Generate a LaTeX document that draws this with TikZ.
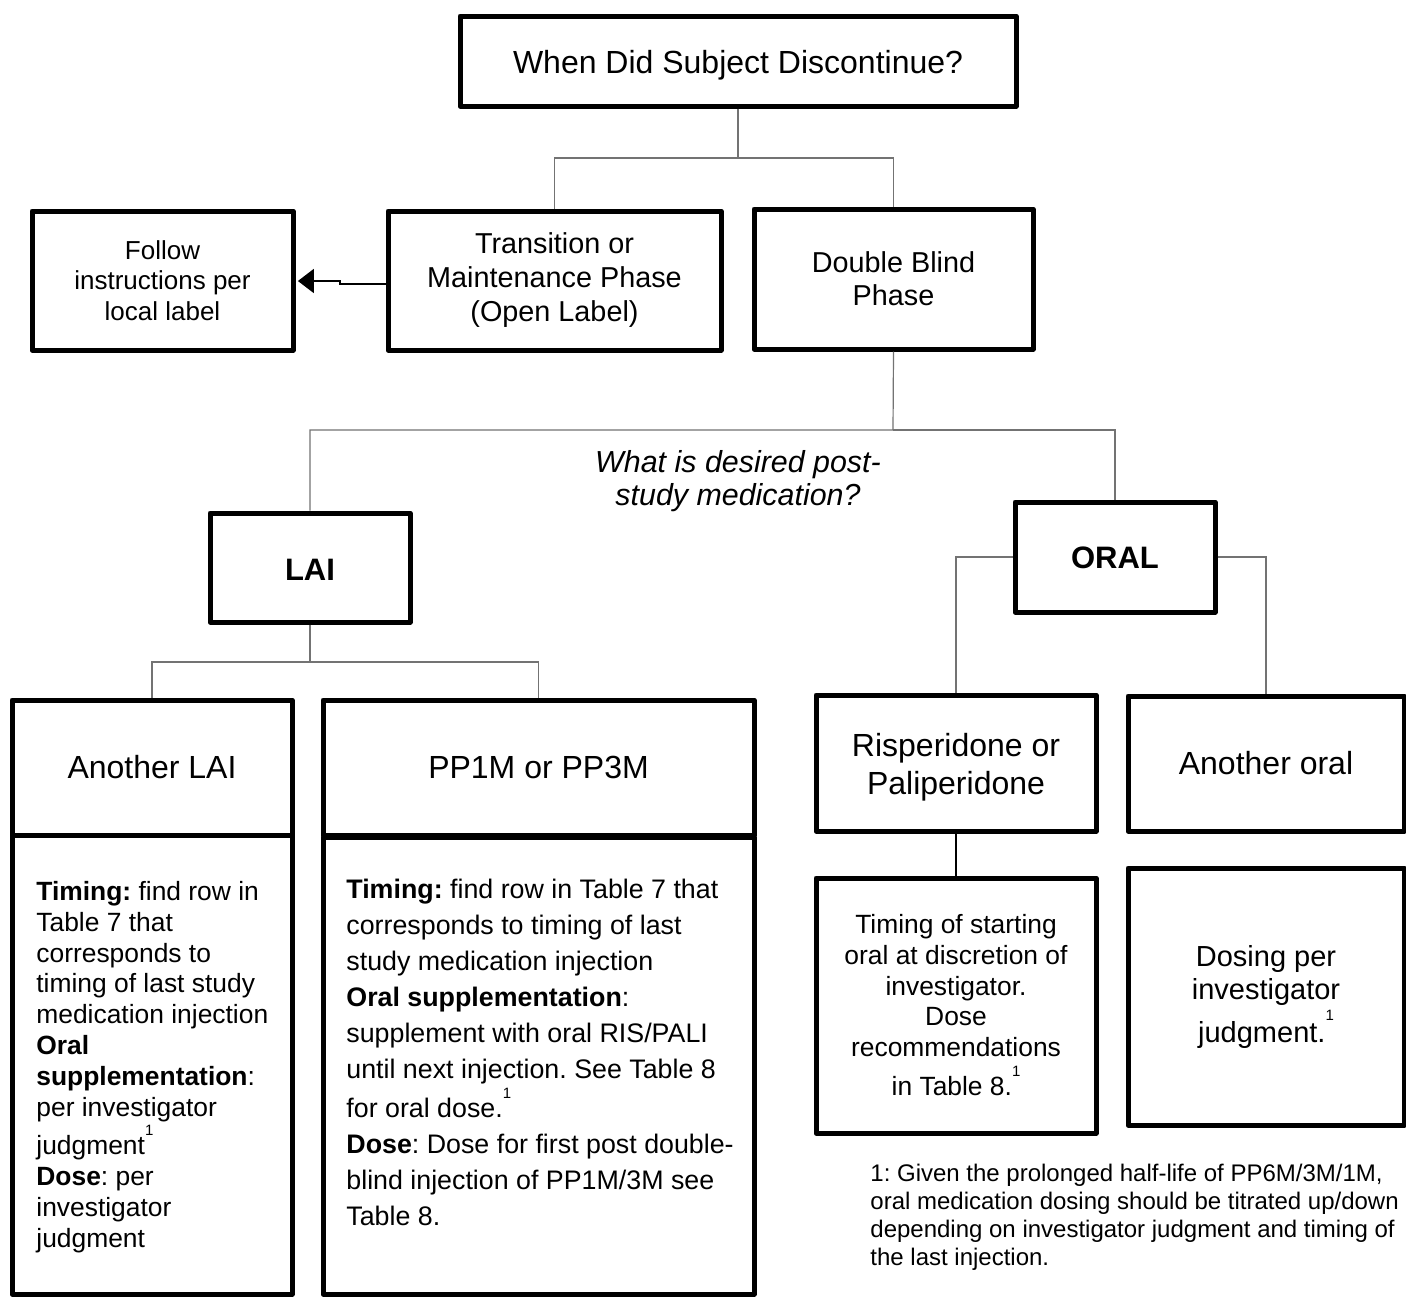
\documentclass[tikz,border=0pt]{standalone}
\usepackage{fontspec}
\setmainfont{Liberation Sans}
\usetikzlibrary{arrows.meta}
\frenchspacing
\newcommand\fnmark{\raisebox{0.74em}[0pt][0pt]{\fontsize{7.5}{8}\selectfont 1}}
\newcommand\fsz[2]{\fontsize{#1}{#2}\selectfont}
\newcommand\down[2]{\raisebox{-#1}[\height][\depth]{#2}}
\begin{document}
\begin{tikzpicture}[x=0.5pt,y=-0.5pt,
  box/.style={draw, line width=2.5pt, line join=round, inner sep=0pt, align=center},
  wh/.style 2 args={minimum width=#1*0.5pt, minimum height=#2*0.5pt},
  conn/.style={draw=black!55, line width=0.6pt},
  arr/.style={draw, line width=1pt, shorten >=1.2pt, -{Triangle[length=8pt,width=12pt]}},
  body/.style={inner sep=0pt, align=left, anchor=north west}]
\useasboundingbox[fill=white] (0,0) rectangle (1406,1296);

% top level
\node[box, wh={556}{90}, font=\fsz{16}{19}] (top) at (738,61) {\down{2pt}{When Did Subject Discontinue?}};
\node[box, wh={261}{139}, font=\fsz{13}{15.3}] (follow) at (162.5,280.5) {Follow\\instructions per\\local label};
\node[box, wh={333}{139}, font=\fsz{14.4}{17}] (trans) at (554.5,280.5) {Transition or\\Maintenance Phase\\(Open Label)};
\node[box, wh={279}{140}, font=\fsz{14.4}{16.5}] (db) at (893.5,279) {Double Blind\\Phase};

\node[font=\fsz{15.2}{16.5}\itshape, align=center, inner sep=0pt] (q) at (738,481) {What is desired post-\\study medication?};

\node[box, wh={200}{109}, font=\fsz{15.5}{18}\bfseries] (lai) at (310,567.5) {\down{1pt}{LAI}};
\node[box, wh={200}{110}, font=\fsz{15.5}{18}\bfseries] (oral) at (1115,557) {\down{0.5pt}{ORAL}};

% LAI branch
\node[box, wh={280}{135}, font=\fsz{16}{19}] (lai1) at (152,767.5) {Another LAI};
\node[box, wh={280}{459}] (lai1body) at (152,1064.5) {};
\node[box, wh={431}{135}, font=\fsz{16}{19}] (pp) at (538.5,767.5) {PP1M or PP3M};
\node[box, wh={431}{457}] (ppbody) at (538.5,1065.5) {};

\node[body, font=\fsz{13.2}{15.4}] (lai1txt) at (36,881) {\textbf{Timing:} find row in\\Table 7 that\\corresponds to\\timing of last study\\medication injection\\\textbf{Oral}\\\textbf{supplementation}:\\per investigator\\[4pt]judgment\fnmark\\\textbf{Dose}: per\\investigator\\judgment};

\node[body, font=\fsz{13.4}{18}] (pptxt) at (346,879) {\textbf{Timing:} find row in Table 7 that\\corresponds to timing of last\\study medication injection\\\textbf{Oral supplementation}:\\supplement with oral RIS/PALI\\until next injection. See Table 8\\[1.5pt]for oral dose.\fnmark\\\textbf{Dose}: Dose for first post double-\\blind injection of PP1M/3M see\\Table 8.};

% ORAL branch
\node[box, wh={280}{136}, font=\fsz{16}{18.5}] (risp) at (956,763) {\down{2pt}{\shortstack{Risperidone or\\[1.2pt]Paliperidone}}};
\node[box, wh={276}{135}, font=\fsz{16}{18.5}] (aoral) at (1266,763.5) {Another oral};
\node[box, wh={280}{255}, font=\fsz{13.2}{15.3}] (timing) at (956,1005.5) {Timing of starting\\oral at discretion of\\investigator.\\Dose\\recommendations\\[4.5pt]in Table 8.\fnmark};
\node[box, wh={276}{257}, font=\fsz{14.5}{16.5}] (dosing) at (1266,996.5) {Dosing per\\investigator\\[5pt]judgment.\fnmark};

\node[body, font=\fsz{12}{14}] (note) at (870,1164) {1: Given the prolonged half-life of PP6M/3M/1M,\\oral medication dosing should be titrated up/down\\depending on investigator judgment and timing of\\the last injection.};

% connectors
\coordinate (b1) at (738,158);
\draw[conn] (top.south) -- (b1) -| (trans.north);
\draw[conn] (b1) -| (db.north);
\coordinate (b2) at (893,430);
\draw[conn] (db.south) -- (b2) -| (lai.north);
\draw[conn] (b2) -| (oral.north);
\coordinate (b3) at (310,662);
\draw[conn] (lai.south) -- (b3) -| (lai1.north);
\draw[conn] (b3) -| (pp.north);
\draw[conn] (oral.west) -| (risp.north);
\draw[conn] (oral.east) -| (aoral.north);
\draw[line width=1pt] (risp.south) -- (timing.north);

\coordinate (j1) at (340,284);
\coordinate (j2) at (340,281);
\draw[arr] (trans.west |- j1) -- (j1) -- (j2) -- (follow.east |- j2);
\end{tikzpicture}
\end{document}
